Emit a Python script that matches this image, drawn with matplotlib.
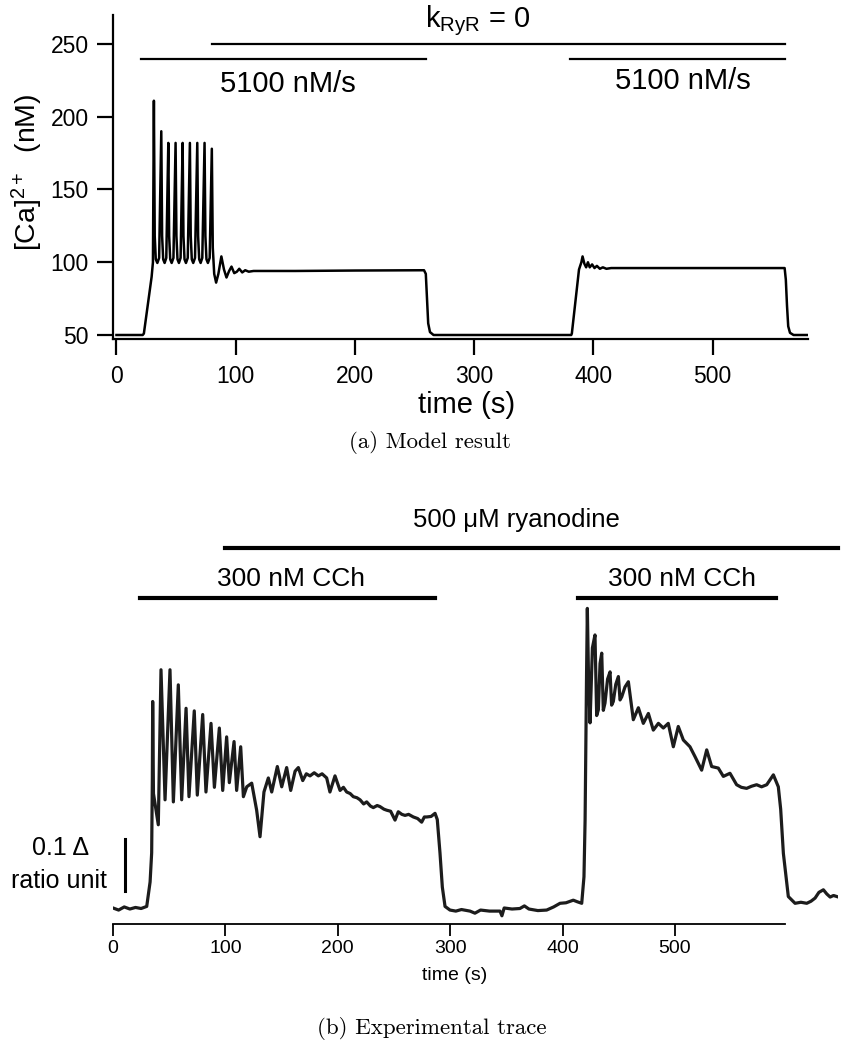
import matplotlib
matplotlib.use("Agg")
import matplotlib.pyplot as plt

plt.rcParams['font.family'] = ['Liberation Sans', 'DejaVu Sans']
plt.rcParams['mathtext.fontset'] = 'custom'
plt.rcParams['mathtext.rm'] = 'Liberation Sans'
plt.rcParams['mathtext.it'] = 'Liberation Sans:italic'
plt.rcParams['mathtext.default'] = 'regular'

# (a) modelo: tiempo (s) y [Ca]2+ (nM)
t_model = [0, 22, 23, 29.5, 30.6, 31.4, 32.1, 33.0, 34.3, 35.8,
           37.6, 38.3, 39.2, 40.4, 41.8, 43.5, 44.2, 45.1, 46.3, 47.8,
           49.6, 50.3, 51.2, 52.4, 53.8, 55.5, 56.2, 57.1, 58.3, 59.8,
           61.6, 62.3, 63.2, 64.4, 65.9, 67.8, 68.5, 69.4, 70.6, 72.0,
           73.9, 74.6, 75.5, 76.7, 78.2, 80.0, 80.8, 82.0, 83.6, 85.5,
           88.0, 90.2, 92.3, 94.5, 96.5, 98.8, 101, 103, 105.5, 108,
           111, 115, 150, 200, 258, 259.5, 260.5, 261.5, 263, 266,
           300, 381.5, 382, 388, 390, 391, 392.5, 394, 395.5, 397,
           399, 401, 403, 405.5, 408, 411, 415, 450, 500, 560.5,
           561.5, 562.5, 563.5, 565, 568, 580]
ca_model = [50, 50, 51, 90, 100, 211, 118, 102, 99.5, 103,
            190, 118, 102, 99.5, 103, 182, 118, 102, 99.5, 103,
            182, 118, 102, 99.5, 103, 182, 118, 102, 99.5, 103,
            182, 118, 102, 99.5, 103, 182, 118, 102, 99.5, 103,
            182, 118, 102, 99.5, 103, 178, 110, 92, 86, 92,
            104, 95, 89.5, 94, 97, 92.5, 93.5, 95.5, 93, 94.5,
            93.5, 94, 94, 94.3, 94.5, 92, 75, 58, 52, 50,
            50, 50, 51, 95, 100, 104, 99, 96.5, 100, 96.5,
            98.5, 96, 97.5, 95.5, 96.5, 95.5, 96, 96, 96, 96,
            88, 70, 56, 51.5, 50, 50]

# (b) traza experimental: tiempo (s) y cambio de ratio
t_exp = [0, 5, 10, 15, 20, 25, 30, 33, 34.4, 35.0,
         35.3, 36.0, 40.3, 42.7, 46.3, 50.7, 53.7, 58.1, 61.1, 65.0,
         67.6, 72.3, 75.0, 79.8, 82.7, 87.2, 90.2, 94.6, 97.6, 101.1,
         103.5, 107.7, 110.0, 113.6, 116.0, 119.0, 123.4, 127.8, 130.8, 134.3,
         138.2, 141.2, 146.2, 150.1, 154.5, 158.1, 162.0, 164.9, 168.8, 172,
         175.3, 179, 182.7, 186, 190.1, 193.0, 197.5, 202.0, 205, 207.9,
         211, 213.8, 217, 219.8, 223, 225.7, 229, 231.6, 235, 237.5,
         241, 243.5, 247, 250.9, 253.8, 257, 259.8, 263, 267.2, 271,
         274.6, 277, 279.1, 283, 286.5, 288.5, 290.9, 293, 295.4, 299.8,
         305, 310, 317.6, 322, 327, 335, 344.3, 346, 348, 355,
         362, 366, 370, 378, 385.8, 392, 397.7, 403, 409.5, 413,
         417, 419, 420, 421.3, 422, 423, 424.4, 426.5, 428.8, 430.3,
         431.8, 433.3, 434.8, 436.2, 437.7, 440, 442.2, 443.6, 445.1, 447.3,
         449.6, 451.1, 452.6, 455.5, 458.5, 462.9, 467.4, 471.8, 476.3,
         480.7, 485.2, 489.6, 494.0, 498.5, 502.9, 507.4, 513.3, 517.8, 523.7,
         528.2, 532.6, 538.5, 543.0, 548.9, 554.8, 559, 563.7, 568, 572.6,
         577, 581.6, 587.5, 591.9, 594, 596.4, 600.8, 606.8, 612, 617.2,
         621, 624.6, 628, 632.0, 635, 638.0, 641, 645.4]
r_exp = [0.000, -0.004, 0.002, -0.002, 0.001, -0.001, 0.003, 0.05, 0.106, 0.25,
         0.397, 0.22, 0.16, 0.458, 0.208, 0.458, 0.204, 0.429, 0.208, 0.384,
         0.214, 0.379, 0.217, 0.372, 0.223, 0.355, 0.232, 0.346, 0.226, 0.329,
         0.241, 0.320, 0.226, 0.310, 0.214, 0.233, 0.240, 0.188, 0.137, 0.223,
         0.250, 0.223, 0.272, 0.233, 0.270, 0.226, 0.263, 0.270, 0.245, 0.258,
         0.254, 0.260, 0.254, 0.258, 0.250, 0.223, 0.254, 0.226, 0.232, 0.223,
         0.220, 0.214, 0.212, 0.208, 0.200, 0.204, 0.196, 0.193, 0.197, 0.195,
         0.190, 0.188, 0.186, 0.169, 0.185, 0.180, 0.178, 0.180, 0.175, 0.172,
         0.165, 0.175, 0.175, 0.176, 0.182, 0.170, 0.106, 0.040, 0.003, -0.004,
         -0.006, -0.003, -0.006, -0.010, -0.004, -0.006, -0.006, -0.015, 0.000, -0.002,
         -0.001, 0.004, -0.002, -0.005, -0.004, 0.002, 0.009, 0.010, 0.015, 0.012,
         0.009, 0.06, 0.169, 0.45, 0.576, 0.45, 0.356, 0.50, 0.525, 0.37,
         0.381, 0.47, 0.49, 0.38, 0.394, 0.44, 0.454, 0.39, 0.397, 0.43,
         0.445, 0.40, 0.406, 0.425, 0.435, 0.362, 0.385, 0.355, 0.374,
         0.342, 0.355, 0.346, 0.355, 0.310, 0.349, 0.323, 0.310, 0.291, 0.265,
         0.304, 0.272, 0.269, 0.253, 0.259, 0.237, 0.232, 0.230, 0.234, 0.237,
         0.233, 0.237, 0.256, 0.233, 0.19, 0.105, 0.022, 0.009, 0.011, 0.009,
         0.013, 0.019, 0.030, 0.035, 0.027, 0.021, 0.024, 0.021]

ticks_a = [0, 100, 200, 300, 400, 500]
yticks_a = [50, 100, 150, 200, 250]
ticks_b = [0, 100, 200, 300, 400, 500]

W, H = 846, 1050
fig = plt.figure(figsize=(W / 100, H / 100), dpi=100)

# ---------- panel (a) ----------
ax1 = fig.add_axes([113 / W, 1 - 339 / H, (808 - 113) / W, (339 - 15) / H])
ax1.plot(t_model, ca_model, color="black", lw=1.8)
ax1.set_xlim(-2.9, 580.1)
ax1.set_ylim(47.25, 269.9)
ax1.set_xticks(ticks_a)
ax1.set_yticks(yticks_a)
for s in ["top", "right"]:
    ax1.spines[s].set_visible(False)
for s in ["left", "bottom"]:
    ax1.spines[s].set_linewidth(1.6)
ax1.tick_params(direction="out", length=11.5, width=1.6, labelsize=16.5)
ax1.tick_params(axis="x", pad=7)
ax1.tick_params(axis="y", pad=6)

# barras de estimulo
ax1.plot([20.3, 259.6], [240, 240], color="black", lw=1.6, clip_on=False)
ax1.plot([80.4, 561], [250, 250], color="black", lw=1.6, clip_on=False)
ax1.plot([380.5, 561], [240, 240], color="black", lw=1.6, clip_on=False)
ax1.text(86.8, 217, "5100 nM/s", fontsize=21, ha="left", va="baseline")
ax1.text(418.2, 219, "5100 nM/s", fontsize=21, ha="left", va="baseline")
ax1.text(259, 261.7, r"k$_{\mathrm{RyR}}$ = 0", fontsize=21, ha="left",
         va="baseline", clip_on=False)

fig.text(467 / W, 1 - 405 / H, "time (s)", fontsize=21, ha="center", va="center")
fig.text(27 / W, 1 - 172 / H, r"[Ca]$^{2+}$  (nM)", fontsize=20.5, rotation=90,
         ha="center", va="center")
fig.text(430 / W, 1 - 443 / H, "(a) Model result", family="cmr10", fontsize=16.5,
         ha="center", va="center")

# ---------- panel (b) ----------
ax2 = fig.add_axes([113 / W, 1 - 924 / H, 725 / W, (924 - 520) / H])
ax2.plot(t_exp, r_exp, color="#1c1c1c", lw=2.3, solid_joinstyle="round")
ax2.set_xlim(0, 645)
ax2.set_ylim(-0.0308, 0.746)
ax2.set_xticks(ticks_b)
ax2.set_yticks([])
for s in ["top", "right", "left"]:
    ax2.spines[s].set_visible(False)
ax2.spines["bottom"].set_bounds(0, 598)
ax2.spines["bottom"].set_linewidth(1.3)
ax2.tick_params(axis="x", direction="out", length=8.5, width=1.3, labelsize=14, pad=3)

ax2.plot([99.6, 645], [0.692, 0.692], color="black", lw=3, clip_on=False)
ax2.plot([24, 286.5], [0.596, 0.596], color="black", lw=3, clip_on=False)
ax2.plot([413.7, 590], [0.596, 0.596], color="black", lw=3, clip_on=False)
ax2.text(359, 0.746, "500 μM ryanodine", fontsize=18.5, ha="center", va="center",
         clip_on=False)
ax2.text(158.5, 0.633, "300 nM CCh", fontsize=19, ha="center", va="center")
ax2.text(506.5, 0.633, "300 nM CCh", fontsize=19, ha="center", va="center")

# barra de escala
ax2.plot([10.7, 10.7], [0.033, 0.133], color="black", lw=2.2, clip_on=False)
ax2.text(-46.3, 0.115, "0.1 Δ", fontsize=18, ha="center", va="center", clip_on=False)
ax2.text(-48, 0.052, "ratio unit", fontsize=18, ha="center", va="center", clip_on=False)

fig.text(455 / W, 1 - 975 / H, "time (s)", fontsize=14, ha="center", va="center")
fig.text(432 / W, 1 - 1029 / H, "(b) Experimental trace", family="cmr10",
         fontsize=16.5, ha="center", va="center")

fig.savefig("out.png", dpi=100)
